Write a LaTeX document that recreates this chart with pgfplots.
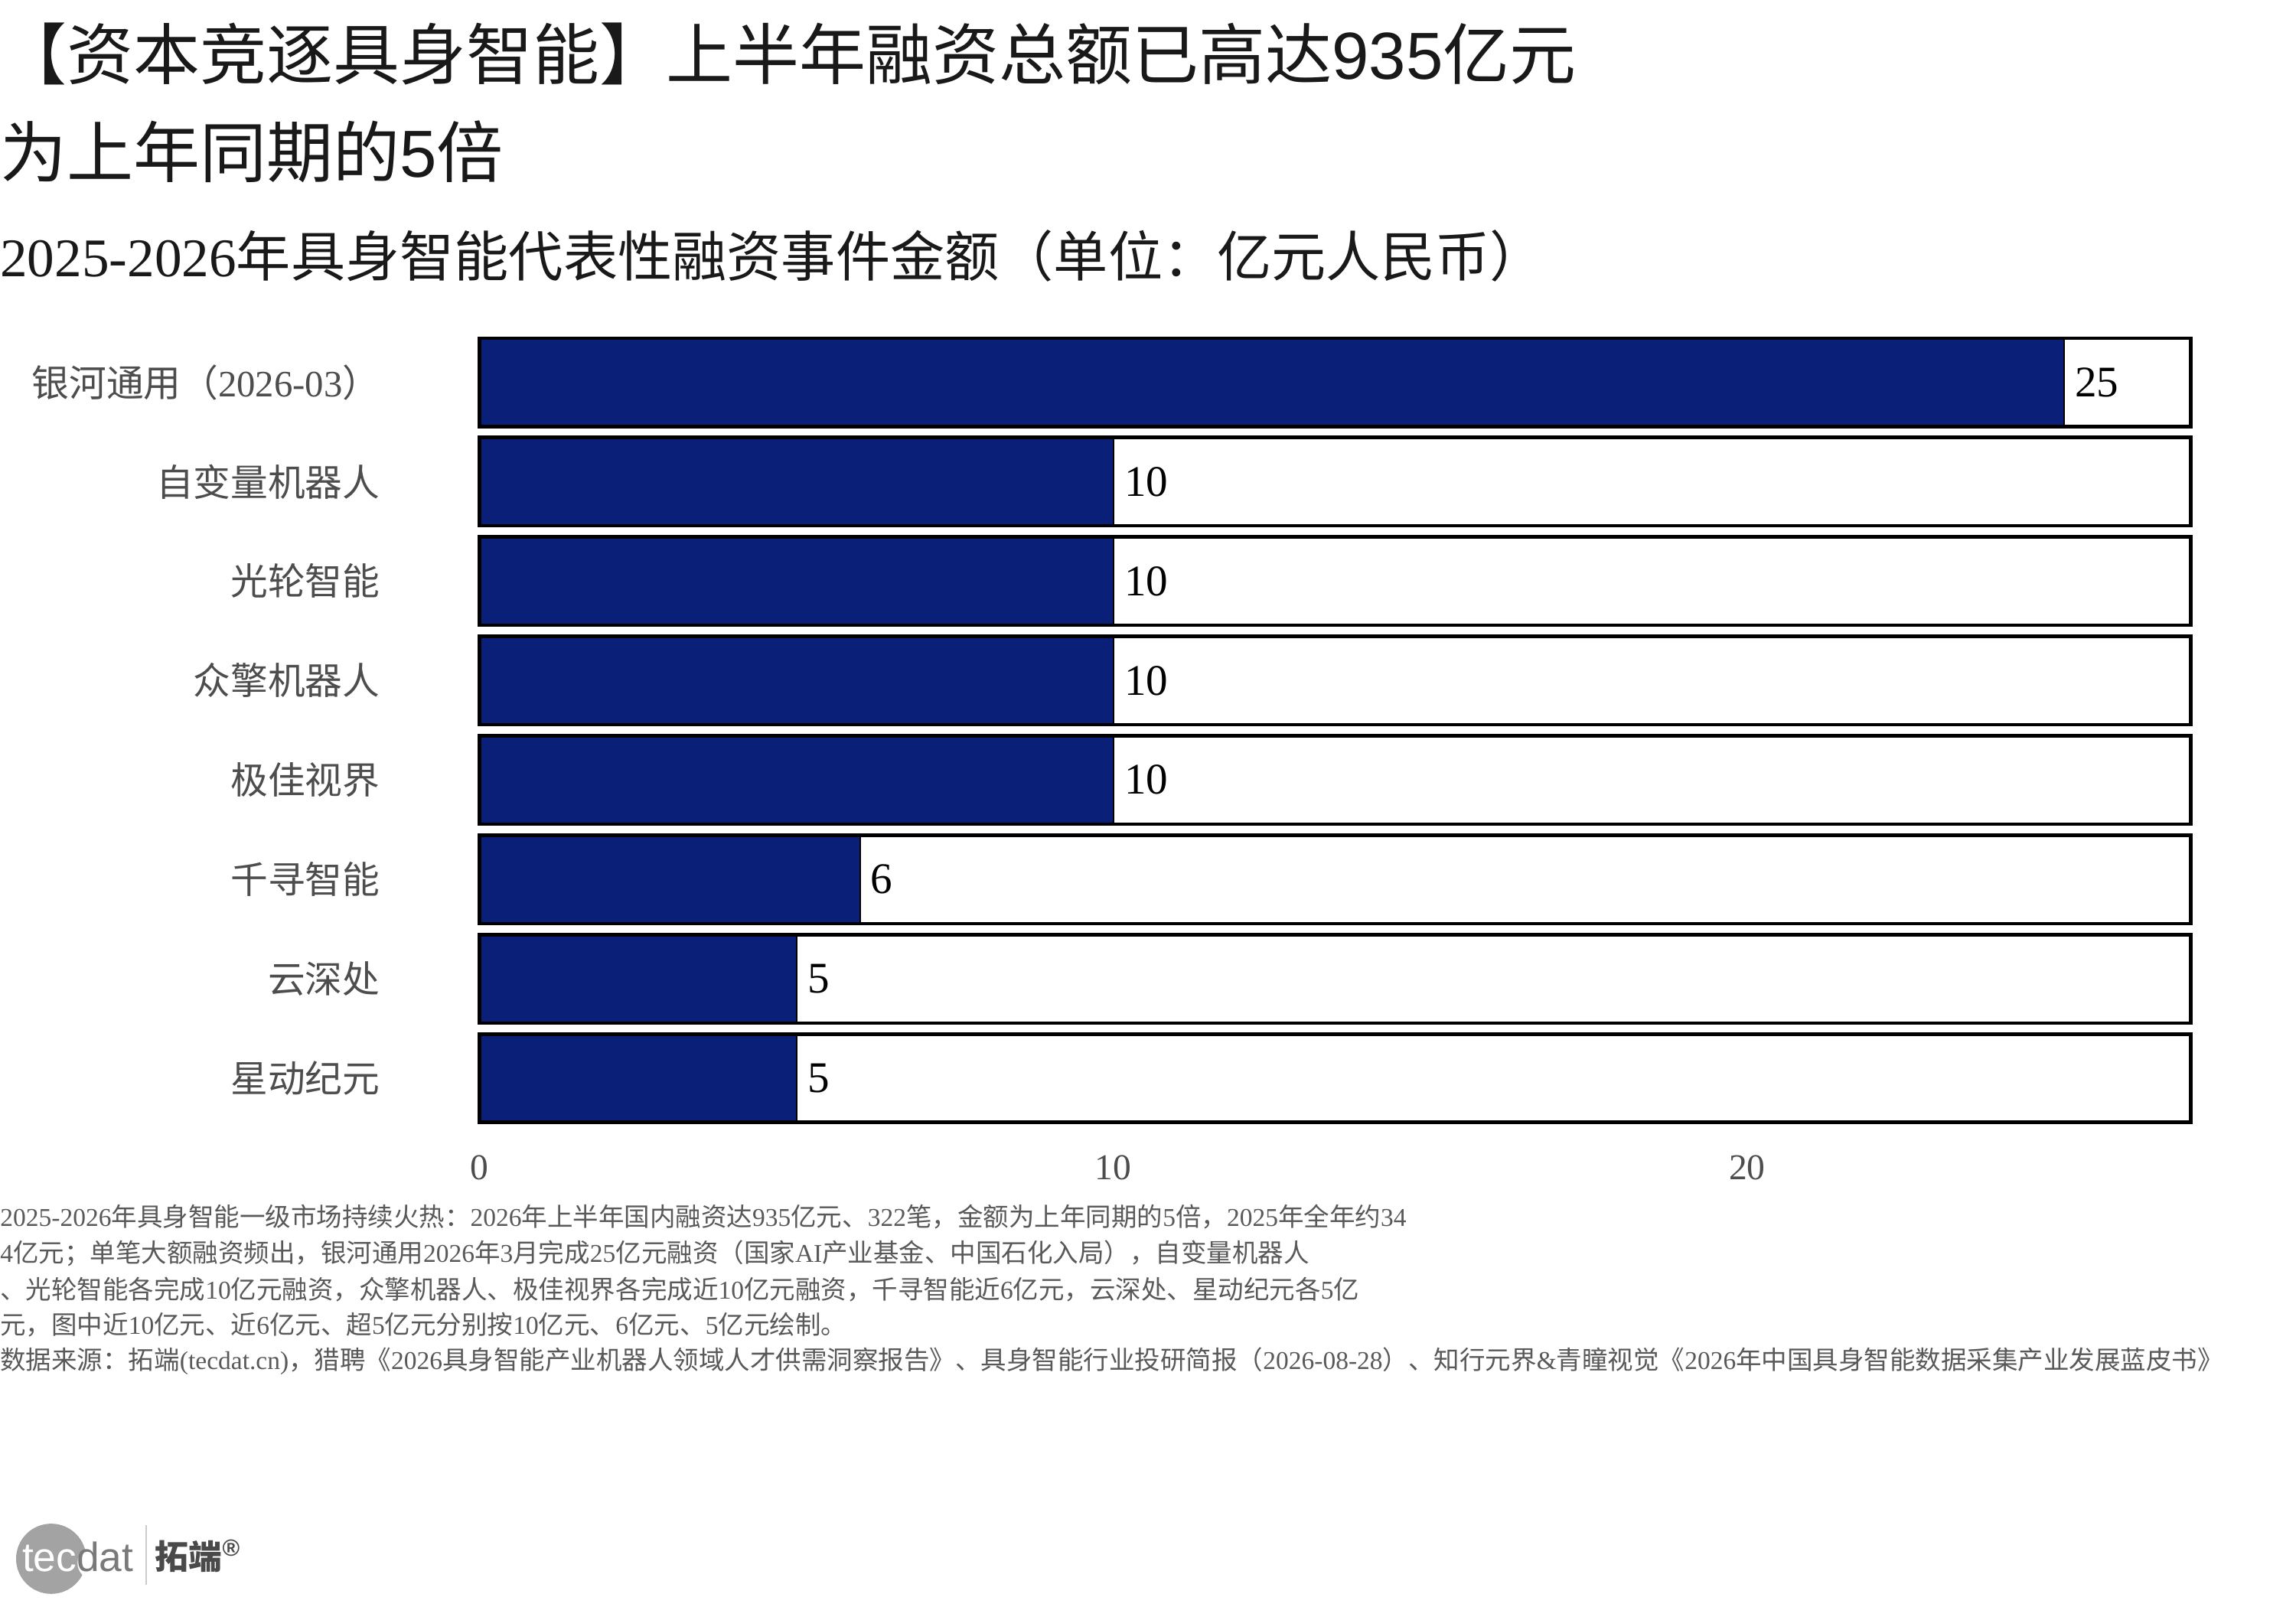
\documentclass[border=0pt]{standalone}
\usepackage{fontspec}
\usepackage{pgfplots}
\pgfplotsset{compat=1.18}
\setmainfont{Liberation Serif}
\newfontfamily\cjk{Noto Sans CJK SC}
\newfontfamily\sans{Liberation Sans}
\let\latin\rmfamily
\newcount\cc
\cc="4E00 \loop \XeTeXcharclass\cc=1 \advance\cc by 1 \ifnum\cc<"A000 \repeat
\cc="3000 \loop \XeTeXcharclass\cc=1 \advance\cc by 1 \ifnum\cc<"3040 \repeat
\cc="FF00 \loop \XeTeXcharclass\cc=1 \advance\cc by 1 \ifnum\cc<"FFF0 \repeat
\XeTeXinterchartokenstate=1
\XeTeXinterchartoks 0 1 = {\cjk}
\XeTeXinterchartoks 4095 1 = {\cjk}
\XeTeXinterchartoks 1 0 = {\latin}
\XeTeXinterchartoks 4095 0 = {\latin}
\definecolor{navy}{HTML}{0A2078}
\definecolor{lblgray}{HTML}{4D4D4D}
\definecolor{notegray}{HTML}{595959}
\definecolor{logogray}{HTML}{A3A3A3}
\definecolor{datgray}{HTML}{7A7A7A}
\definecolor{logodark}{HTML}{4A4A4A}
\definecolor{linegray}{HTML}{CCCCCC}
\begin{document}
\begin{tikzpicture}
\path[use as bounding box, fill=white] (0bp,0bp) rectangle (1570bp,-1099bp);
% titles
\node[anchor=west, inner sep=0pt, text=black!90] at (0bp,-37bp)
  {\fontsize{45.7}{50}\selectfont\let\latin\sans 【资本竞逐具身智能】上半年融资总额已高达935亿元};
\node[anchor=west, inner sep=0pt, text=black!90] at (0bp,-104bp)
  {\fontsize{45.7}{50}\selectfont\let\latin\sans 为上年同期的5倍};
\node[anchor=west, inner sep=0pt, text=black!90] at (0bp,-175bp)
  {\fontsize{37.4}{40}\selectfont 2025-2026年具身智能代表性融资事件金额（单位：亿元人民币）};
\begin{axis}[
  at={(328bp,-771.4bp)}, anchor=south west,
  scale only axis, width=1170bp, height=544bp,
  xmin=0, xmax=27, ymin=-0.5, ymax=7.5, y dir=reverse,
  clip=false,
  axis line style={draw=none},
  major tick length=0pt, tick style={draw=none},
  xtick={0,10,20}, ytick={0,1,2,3,4,5,6,7},
  yticklabels={银河通用（2026-03）,自变量机器人,光轮智能,众擎机器人,极佳视界,千寻智能,云深处,星动纪元},
  /pgf/number format/assume math mode=true,
  xticklabel style={anchor=north, inner sep=0pt, yshift=-18.6bp, font=\fontsize{25}{25}\selectfont, text=lblgray},
  yticklabel style={anchor=east, inner sep=0pt, xshift=-68bp, font=\fontsize{25.6}{26}\selectfont, text=lblgray},
]
\addplot[xbar, bar shift=0pt, bar width=0.888, fill=navy, draw=black, line width=1bp,
  point meta=x, nodes near coords, nodes near coords align={horizontal},
  every node near coord/.append style={anchor=west, inner sep=0pt, xshift=7bp, font=\fontsize{30}{30}\selectfont, text=black}]
  coordinates {(25,0) (10,1) (10,2) (10,3) (10,4) (6,5) (5,6) (5,7)};
\addplot[xbar, bar shift=0pt, bar width=0.888, fill=none, draw=black, line width=2.4bp]
  coordinates {(27,0) (27,1) (27,2) (27,3) (27,4) (27,5) (27,6) (27,7)};
\end{axis}
% footnote
\begin{scope}[every node/.style={anchor=west, inner sep=0pt, text=notegray, font=\fontsize{17.6}{20}\selectfont}]
\node at (0bp,-832bp) {2025-2026年具身智能一级市场持续火热：2026年上半年国内融资达935亿元、322笔，金额为上年同期的5倍，2025年全年约34};
\node at (0bp,-857bp) {4亿元；单笔大额融资频出，银河通用2026年3月完成25亿元融资（国家AI产业基金、中国石化入局），自变量机器人};
\node at (0bp,-882bp) {、光轮智能各完成10亿元融资，众擎机器人、极佳视界各完成近10亿元融资，千寻智能近6亿元，云深处、星动纪元各5亿};
\node at (0bp,-906bp) {元，图中近10亿元、近6亿元、超5亿元分别按10亿元、6亿元、5亿元绘制。};
\node at (0bp,-931bp) {数据来源：拓端(tecdat.cn)，猎聘《2026具身智能产业机器人领域人才供需洞察报告》、具身智能行业投研简报（2026-08-28）、知行元界\&青瞳视觉《2026年中国具身智能数据采集产业发展蓝皮书》};
\end{scope}
% logo
\fill[logogray] (35bp,-1066bp) circle (24bp);
\fill[white] (64bp,-1069bp) circle (11bp);
\node[anchor=base west, inner sep=0pt] at (15bp,-1074.5bp)
  {\fontsize{28}{28}\selectfont\let\latin\sans\sans\textcolor{white}{tec}\textcolor{datgray}{dat}};
\draw[linegray, line width=1bp] (100bp,-1043bp) -- (100bp,-1084bp);
\node[anchor=base west, inner sep=0pt, text=logodark] at (106bp,-1073bp)
  {\fontsize{23}{23}\selectfont\let\latin\sans\bfseries 拓端\textsuperscript{®}};
\end{tikzpicture}
\end{document}
